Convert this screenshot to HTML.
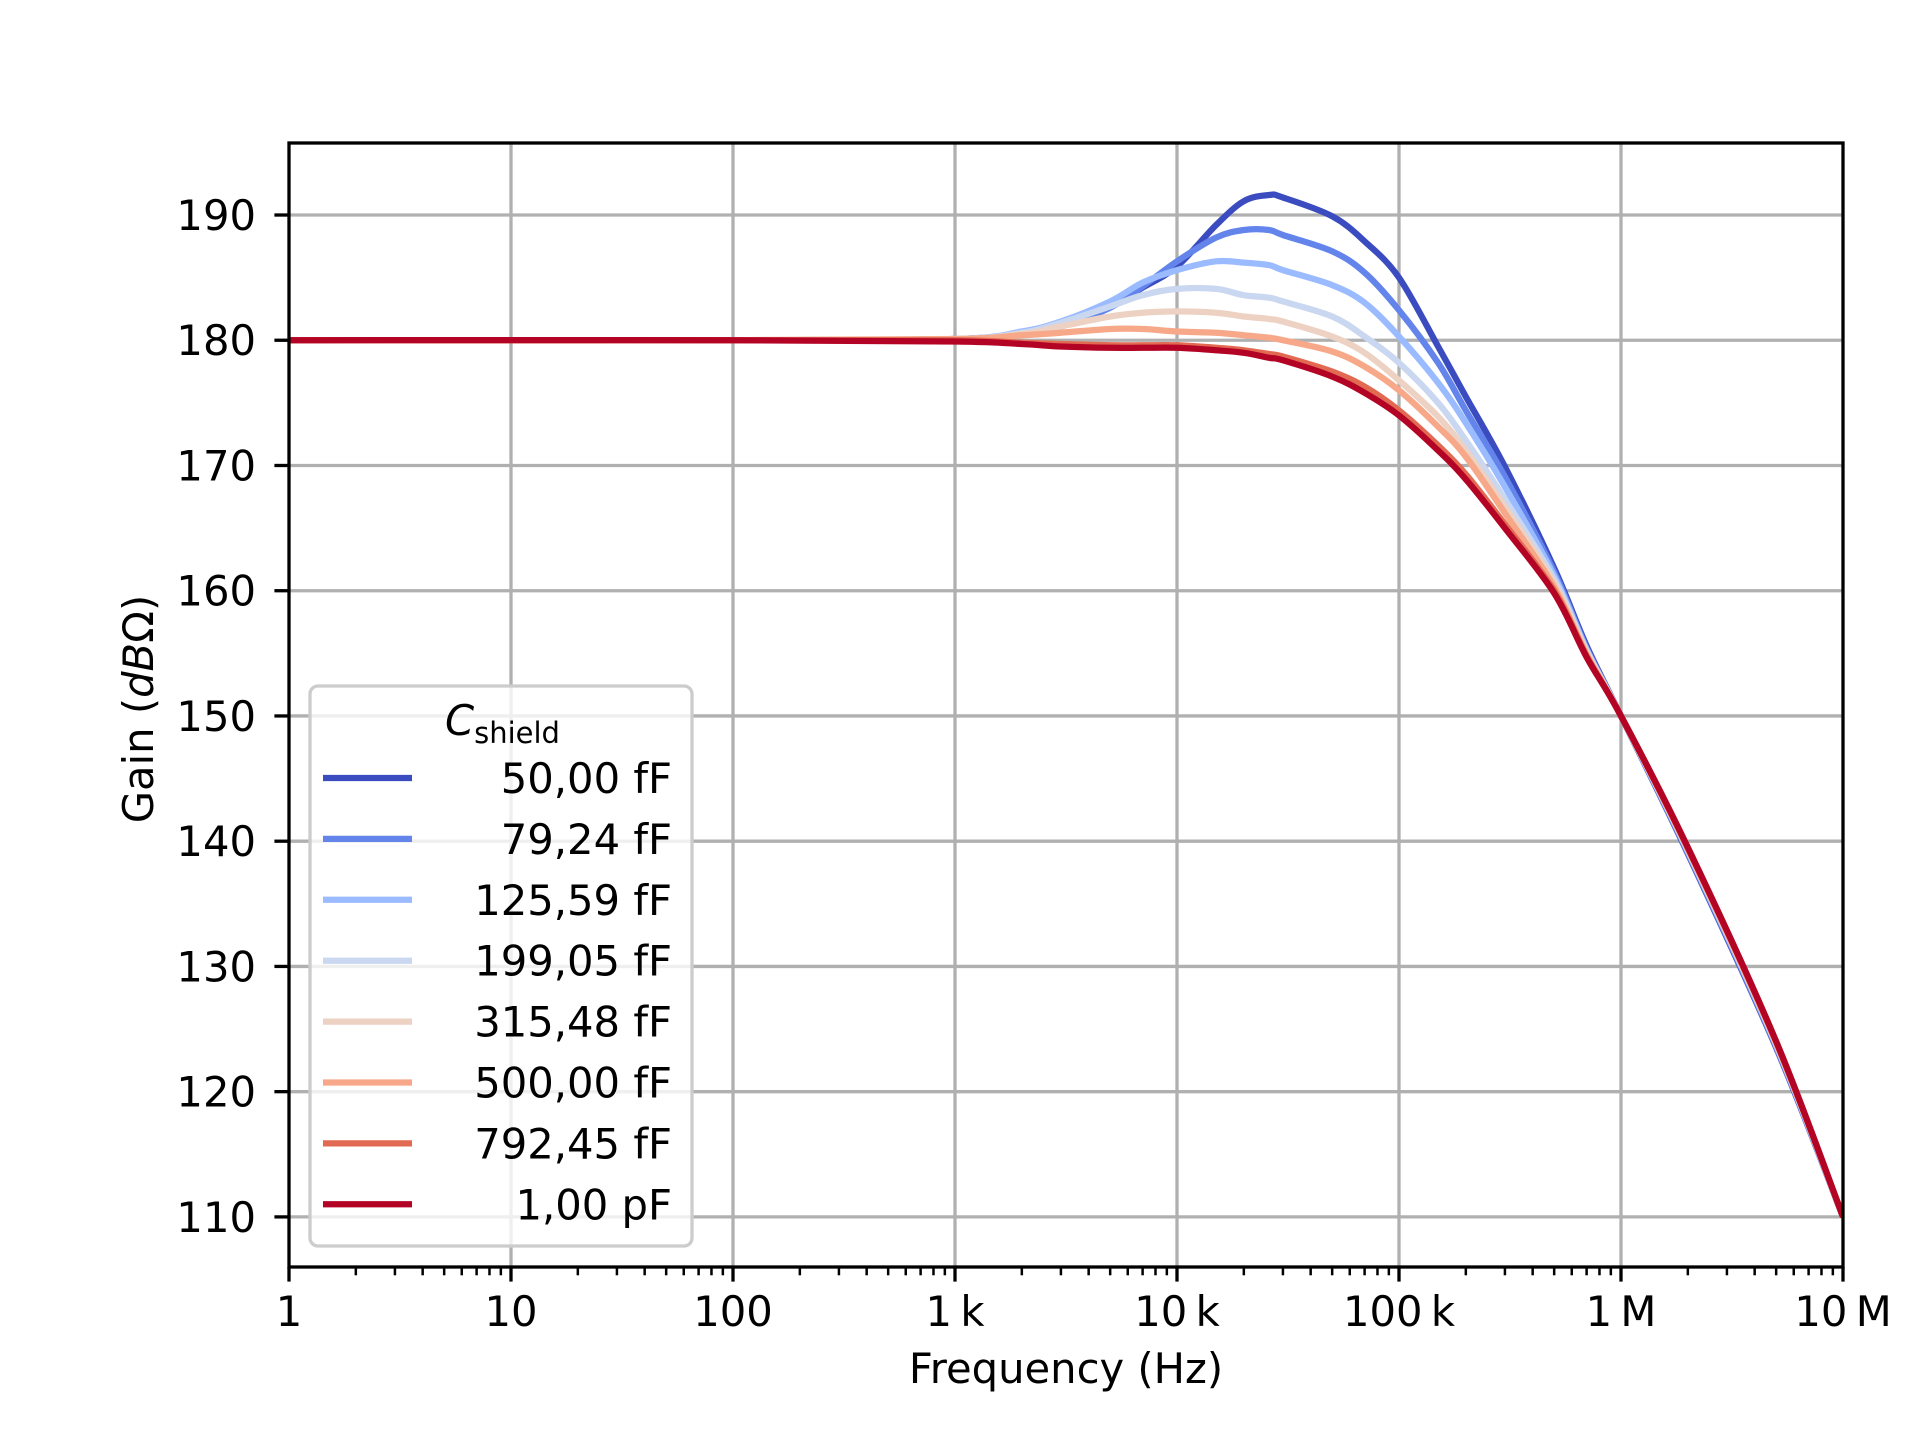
<!DOCTYPE html>
<html><head><meta charset="utf-8"><style>
html,body{margin:0;padding:0;background:#fff}
svg{display:block}
text{font-family:"DejaVu Sans","Liberation Sans",sans-serif;fill:#000}
</style></head><body>
<svg id="chart" width="1920" height="1440" viewBox="0 0 1920 1440" xmlns="http://www.w3.org/2000/svg">
<rect width="1920" height="1440" fill="#fff"/>
<g id="grid"></g>
<g id="series"></g>
<g id="axes"></g>
<g id="legend"></g>
<text x="1066" y="1383" font-size="41.7" text-anchor="middle">Frequency (Hz)</text>
<text transform="translate(153,709) rotate(-90)" font-size="41.7" text-anchor="middle">Gain (<tspan font-style="italic">dB</tspan>Ω)</text>
</svg>
<script>
const freqs = [1,100,1e3,2e3,3e3,5e3,7e3,1e4,1.5e4,2e4,2.6e4,3e4,5e4,7e4,1e5,1.5e5,2e5,3e5,5e5,7e5,1e6,2e6,5e6,1e7];
const seriesLabels = ["50,00 fF","79,24 fF","125,59 fF","199,05 fF","315,48 fF","500,00 fF","792,45 fF","1,00 pF"];
const seriesColors = ["#3b4cc0","#6384eb","#9abbff","#c9d7f0","#edd1c2","#f7a889","#e26952","#b40426"];
const s50  = [180,180,180.1,180.6,181.1,182.7,184.2,185.9,189.2,191.1,191.6,191.4,189.9,187.9,185.0,179.5,175.5,169.9,161.8,155.6,150,139.0,123.5,110];
const s79  = [180,180,180.1,180.6,181.1,182.6,184.3,186.3,188.2,188.8,188.8,188.4,187.1,185.4,182.4,178.2,174.4,169.1,161.5,155.4,150,139.1,123.6,110];
const s125 = [180,180,180.1,180.7,181.5,183.1,184.6,185.6,186.3,186.2,186.0,185.6,184.4,183.0,180.3,176.6,173.4,168.3,161.2,155.3,150,139.2,123.7,110];
const s199 = [180,180,180.1,180.6,181.4,182.7,183.6,184.1,184.1,183.6,183.4,183.1,181.9,180.3,178.2,175.0,172.0,167.3,160.9,155.2,150,139.3,123.8,110];
const s315 = [180,180,180.1,180.5,181.1,181.9,182.2,182.3,182.2,181.9,181.7,181.5,180.3,179.0,176.8,173.9,171.2,166.7,160.6,155.1,150,139.3,123.8,110];
const s500 = [180,180,180.1,180.4,180.6,180.9,180.9,180.7,180.6,180.4,180.2,180.0,179.1,177.9,176.0,173.1,170.7,166.2,160.3,154.9,150,139.4,123.9,110];
const s792 = [180,180,180.0,179.8,179.7,179.6,179.6,179.6,179.4,179.2,178.9,178.7,177.5,176.3,174.4,171.6,169.3,165.3,160.0,154.8,150,139.5,124.0,110];
const s1p  = [180,180,179.9,179.7,179.5,179.4,179.4,179.4,179.2,179.0,178.6,178.4,177.1,175.8,174.0,171.2,168.9,165.0,159.8,154.7,150,139.5,124.0,110];
const allSeries = [s50,s79,s125,s199,s315,s500,s792,s1p];
const xTickVals = [1,10,100,1e3,1e4,1e5,1e6,1e7];
const xTickLabels = ["1","10","100","1\u2009k","10\u2009k","100\u2009k","1\u2009M","10\u2009M"];
const yTickVals = [110,120,130,140,150,160,170,180,190];

const NS="http://www.w3.org/2000/svg";
const L=289,R=1843,T=143,B=1267;
const X0=0,X1=7,Y0=106.0,Y1=195.75;
function xs(f){return L+(Math.log10(f)-X0)/(X1-X0)*(R-L);}
function ys(v){return B-(v-Y0)/(Y1-Y0)*(B-T);}
function mk(tag,attrs,parent){const e=document.createElementNS(NS,tag);for(const k in attrs)e.setAttribute(k,attrs[k]);parent.appendChild(e);return e;}
const grid=document.getElementById('grid'),axes=document.getElementById('axes'),sg=document.getElementById('series'),lg=document.getElementById('legend');

xTickVals.forEach((v,i)=>{const x=xs(v);
  if(i>0&&i<xTickVals.length-1){const g=mk('line',{x1:x,x2:x,y1:T,y2:B,stroke:'#b0b0b0','stroke-width':3.3},grid);
  
  }
  const t=mk('line',{x1:x,x2:x,y1:B,y2:B+14.6,stroke:'#000','stroke-width':3.3},axes);
  
  
  const lb=mk('text',{x:x,y:1326,'font-size':41.7,'text-anchor':'middle'},axes);lb.textContent=xTickLabels[i];
  
  
  if(i<xTickVals.length-1){for(let m=2;m<10;m++){const mx=xs(v*m);
    const mt=mk('line',{x1:mx,x2:mx,y1:B,y2:B+8.3,stroke:'#000','stroke-width':2.5},axes);
    
    }}
});
yTickVals.forEach(v=>{const y=ys(v);
  const g=mk('line',{x1:L,x2:R,y1:y,y2:y,stroke:'#b0b0b0','stroke-width':3.3},grid);
  
  
  const t=mk('line',{x1:L-14.6,x2:L,y1:y,y2:y,stroke:'#000','stroke-width':3.3},axes);
  
  
  const lb=mk('text',{x:256,y:y+15,'font-size':41.7,'text-anchor':'end'},axes);lb.textContent=String(v);
  
  
});
const frame=mk('rect',{x:L,y:T,width:R-L,height:B-T,fill:'none',stroke:'#000','stroke-width':3.3},axes);



function pathFor(vals){
  const P=freqs.map((f,i)=>[xs(f),ys(vals[i])]);
  let d='M'+P[0][0].toFixed(1)+','+P[0][1].toFixed(1);
  for(let i=0;i<P.length-1;i++){
    const p0=P[Math.max(0,i-1)],p1=P[i],p2=P[i+1],p3=P[Math.min(P.length-1,i+2)];
    const c1=[p1[0]+(p2[0]-p0[0])/6,p1[1]+(p2[1]-p0[1])/6];
    const c2=[p2[0]-(p3[0]-p1[0])/6,p2[1]-(p3[1]-p1[1])/6];
    d+=' C'+c1[0].toFixed(1)+','+c1[1].toFixed(1)+' '+c2[0].toFixed(1)+','+c2[1].toFixed(1)+' '+p2[0].toFixed(1)+','+p2[1].toFixed(1);
  }
  return d;
}
const clip=mk('clipPath',{id:'pc'},document.getElementById('chart'));
mk('rect',{x:L,y:T,width:R-L,height:B-T},clip);
sg.setAttribute('clip-path','url(#pc)');
allSeries.forEach((vals,i)=>{
  const p=mk('path',{d:pathFor(vals),fill:'none',stroke:seriesColors[i],'stroke-width':6.25,'stroke-linejoin':'round','stroke-linecap':'butt'},sg);
  
  
});

const box=mk('rect',{x:310,y:686,width:382,height:560,rx:8,fill:'#fff','fill-opacity':0.8,stroke:'#cccccc','stroke-width':3.3},lg);


const tt=mk('text',{x:445,y:735,'font-size':41.7},lg);
tt.innerHTML='<tspan font-style="italic">C</tspan><tspan font-size="29" dy="8">shield</tspan>';


seriesLabels.forEach((lab,i)=>{const y=778+i*60.9;
  const ln=mk('line',{x1:323,x2:412,y1:y,y2:y,stroke:seriesColors[i],'stroke-width':6.25},lg);
  
  
  const t=mk('text',{x:672,y:y+15,'font-size':41.7,'text-anchor':'end'},lg);t.textContent=lab;
  
  
});
</script>
</body></html>
